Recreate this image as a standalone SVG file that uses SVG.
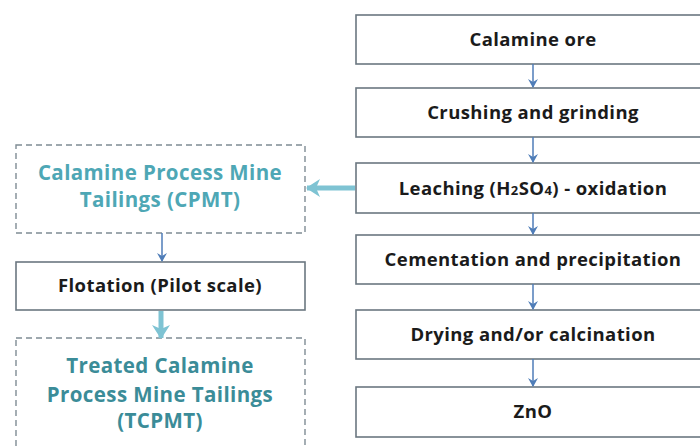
<svg xmlns="http://www.w3.org/2000/svg" width="700" height="446" viewBox="0 0 700 446">
<style>
.box{fill:#fff;stroke:#6b7780;stroke-width:1.6}
.dbox{fill:#fff;stroke:#7f8c94;stroke-width:1.4;stroke-dasharray:6 4}
.t{font-family:"Open Sans","Noto Sans",sans-serif;font-weight:700;font-size:18.5px;letter-spacing:0.4px;fill:#1b1b1b;text-anchor:middle}
.tl{font-family:"Open Sans","Noto Sans",sans-serif;font-weight:700;font-size:20.5px;letter-spacing:0.4px;text-anchor:middle}
.thin{stroke:#4f7db8;stroke-width:1.5;fill:none}
.thick{stroke:#7ec3d3;stroke-width:5;fill:none}
</style>
<defs>
<marker id="ah" markerWidth="10" markerHeight="10" refX="8" refY="5" orient="auto" markerUnits="userSpaceOnUse"><path d="M0,0 L9,5 L0,10 L3,5 Z" fill="#4f7db8"/></marker>
<marker id="ahb" markerWidth="14" markerHeight="18" refX="13" refY="9" orient="auto" markerUnits="userSpaceOnUse"><path d="M0,0 L14,9 L0,18 L4,9 Z" fill="#7ec3d3"/></marker>
</defs>
<rect width="700" height="446" fill="#fff"/>
<g id="n1"><rect class="box" x="356" y="15" width="354" height="49"/><text class="t" x="533" y="46">Calamine ore</text></g>
<g id="n2"><rect class="box" x="356" y="88" width="354" height="49"/><text class="t" x="533" y="119">Crushing and grinding</text></g>
<g id="n3"><rect class="box" x="356" y="163" width="354" height="50"/><text class="t" x="533" y="195">Leaching (H<tspan font-size="13">2</tspan>SO<tspan font-size="13">4</tspan>) - oxidation</text></g>
<g id="n4"><rect class="box" x="356" y="235" width="354" height="49"/><text class="t" x="533" y="266">Cementation and precipitation</text></g>
<g id="n5"><rect class="box" x="356" y="310" width="354" height="49"/><text class="t" x="533" y="341">Drying and/or calcination</text></g>
<g id="n6"><rect class="box" x="356" y="387" width="354" height="50"/><text class="t" x="533" y="418">ZnO</text></g>
<g id="n7"><rect class="dbox" x="16" y="145" width="289" height="88"/><text class="tl" fill="#4ea7b5" x="160" y="180">Calamine Process Mine</text><text class="tl" fill="#4ea7b5" x="160" y="207">Tailings (CPMT)</text></g>
<g id="n8"><rect class="box" x="16" y="262" width="289" height="48"/><text class="t" x="160" y="292">Flotation (Pilot scale)</text></g>
<g id="n9"><rect class="dbox" x="16" y="338" width="289" height="120"/><text class="tl" fill="#3b8c98" x="160" y="373">Treated Calamine</text><text class="tl" fill="#3b8c98" x="160" y="402">Process Mine Tailings</text><text class="tl" fill="#3b8c98" x="160" y="428">(TCPMT)</text></g>
<g id="connectors">
<line class="thin" x1="533" y1="64" x2="533" y2="87" marker-end="url(#ah)"/>
<line class="thin" x1="533" y1="137" x2="533" y2="162" marker-end="url(#ah)"/>
<line class="thin" x1="533" y1="213" x2="533" y2="234" marker-end="url(#ah)"/>
<line class="thin" x1="533" y1="284" x2="533" y2="309" marker-end="url(#ah)"/>
<line class="thin" x1="533" y1="359" x2="533" y2="386" marker-end="url(#ah)"/>
<line class="thin" x1="162" y1="233" x2="162" y2="261" marker-end="url(#ah)"/>
<line class="thick" x1="355" y1="188" x2="307" y2="188" marker-end="url(#ahb)"/>
<line class="thick" x1="161" y1="311" x2="161" y2="338" marker-end="url(#ahb)"/>
</g>
</svg>
